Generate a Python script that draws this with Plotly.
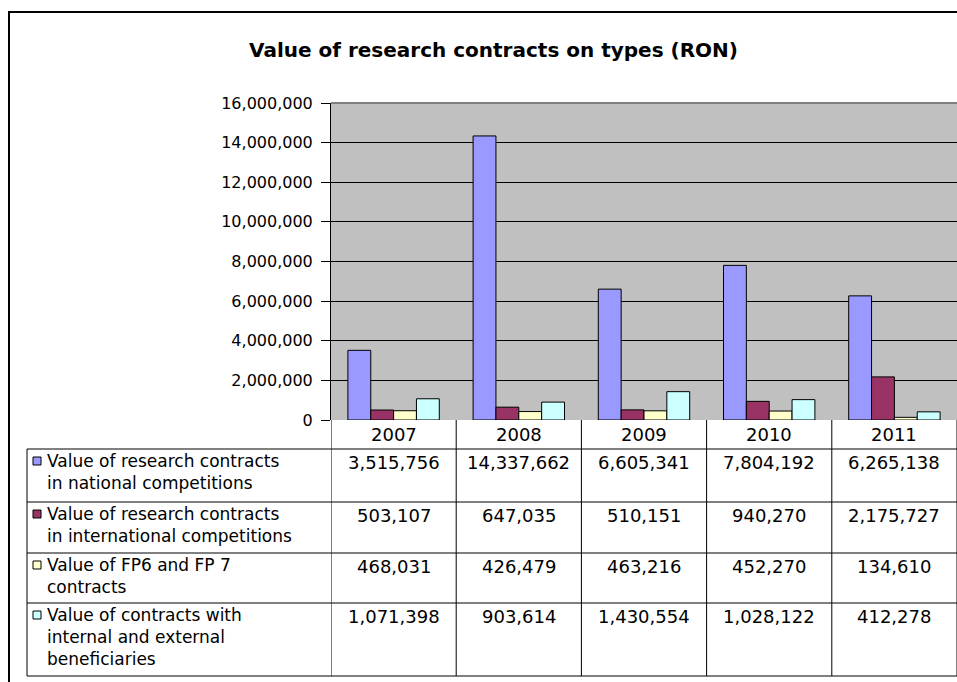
import plotly.graph_objects as go

YEARS = ["2007", "2008", "2009", "2010", "2011"]

SERIES_NAMES = [
    "Value of research contracts in national competitions",
    "Value of research contracts in international competitions",
    "Value of FP6 and FP 7 contracts",
    "Value of contracts with internal and external beneficiaries",
]
# how the names wrap inside the data table
SERIES_LINES = [
    ["Value of research contracts", "in national competitions"],
    ["Value of research contracts", "in international competitions"],
    ["Value of FP6 and FP 7", "contracts"],
    ["Value of contracts with", "internal and external", "beneficiaries"],
]
NATIONAL = [3515756, 14337662, 6605341, 7804192, 6265138]
INTERNATIONAL = [503107, 647035, 510151, 940270, 2175727]
FP6_FP7 = [468031, 426479, 463216, 452270, 134610]
INTERNAL_EXTERNAL = [1071398, 903614, 1430554, 1028122, 412278]

SERIES_VALUES = [NATIONAL, INTERNATIONAL, FP6_FP7, INTERNAL_EXTERNAL]
COLORS = ["#9999FF", "#993366", "#FFFFCC", "#CCFFFF"]

FONT = "DejaVu Sans"
W, H = 957, 682
PLOT_L, PLOT_R, PLOT_T, PLOT_B = 331, 957, 103, 420
ROW_EDGES = [449, 502, 553, 603, 676]   # table rows (pixels)
TABLE_L = 27
NAME_SIZE = 17
CELL_SIZE = 18
LINE_H = 1.3 * NAME_SIZE                # plotly's line spacing for <br>


def px(x):
    return (x - PLOT_L) / (PLOT_R - PLOT_L)


def py(y):
    return (PLOT_B - y) / (PLOT_B - PLOT_T)


fig = go.Figure()
for name, vals, color in zip(SERIES_NAMES, SERIES_VALUES, COLORS):
    fig.add_trace(
        go.Bar(
            x=YEARS,
            y=vals,
            name=name,
            marker=dict(color=color, line=dict(color="black", width=1)),
            showlegend=False,
        )
    )

shapes = []
annotations = []

# outer chart frame
shapes.append(dict(type="rect", xref="paper", yref="paper",
                   x0=px(9), x1=px(975), y0=py(12), y1=py(700),
                   line=dict(color="black", width=2)))
# grey top border of the plot area
shapes.append(dict(type="line", xref="paper", yref="paper",
                   x0=0, x1=1, y0=1, y1=1, line=dict(color="#808080", width=2)))

# table grid
for edge in ROW_EDGES:
    shapes.append(dict(type="line", xref="paper", yref="paper",
                       x0=px(TABLE_L), x1=1.0, y0=py(edge), y1=py(edge),
                       line=dict(color="black", width=1)))
shapes.append(dict(type="line", xref="paper", yref="paper",
                   x0=px(TABLE_L), x1=px(TABLE_L), y0=py(ROW_EDGES[0]), y1=py(ROW_EDGES[-1]),
                   line=dict(color="black", width=1)))
for i in range(len(YEARS) + 1):
    shapes.append(dict(type="line", xref="x", yref="paper",
                       x0=i - 0.5, x1=i - 0.5, y0=0, y1=py(ROW_EDGES[-1]),
                       line=dict(color="black", width=1)))

# year header
for i, yr in enumerate(YEARS):
    annotations.append(dict(x=i, xref="x", y=py(434), yref="paper", text=yr,
                            showarrow=False, font=dict(family=FONT, size=CELL_SIZE, color="black"),
                            xanchor="center", yanchor="middle"))

# table rows: legend key, wrapped name, values
for r, (lines, vals, color) in enumerate(zip(SERIES_LINES, SERIES_VALUES, COLORS)):
    top = ROW_EDGES[r]
    first = top + 13
    key_y = top + 12
    centre = key_y + LINE_H * (len(lines) - 1) / 2
    shapes.append(dict(type="rect", xref="paper", yref="paper",
                       x0=px(33), x1=px(41), y0=py(key_y - 4), y1=py(key_y + 4),
                       fillcolor=color, line=dict(color="black", width=1)))
    annotations.append(dict(x=px(45), xref="paper", y=py(centre), yref="paper",
                            text="<br>".join(lines), showarrow=False, align="left",
                            xanchor="left", yanchor="middle",
                            font=dict(family=FONT, size=NAME_SIZE, color="black")))
    for i, v in enumerate(vals):
        annotations.append(dict(x=i, xref="x", y=py(first), yref="paper",
                                text=f"{v:,}", showarrow=False, xanchor="center", yanchor="middle",
                                font=dict(family=FONT, size=CELL_SIZE, color="black")))

# title
annotations.append(dict(x=px(493), xref="paper", y=py(50), yref="paper",
                        text="<b>Value of research contracts on types (RON)</b>",
                        showarrow=False, xanchor="center", yanchor="middle",
                        font=dict(family=FONT, size=20, color="black")))

fig.update_layout(
    width=W,
    height=H,
    margin=dict(l=PLOT_L, r=W - PLOT_R, t=PLOT_T, b=H - PLOT_B, pad=0),
    paper_bgcolor="white",
    plot_bgcolor="#C0C0C0",
    bargap=0.27,
    bargroupgap=0,
    barmode="group",
    font=dict(family=FONT, size=16, color="black"),
    xaxis=dict(type="category", showticklabels=False, showgrid=False, zeroline=False,
               ticks="", showline=False, range=[-0.5, 4.5], fixedrange=True),
    yaxis=dict(range=[0, 16000000], dtick=2000000, tickformat=",",
               showgrid=True, gridcolor="black", gridwidth=1, zeroline=False,
               showline=True, linecolor="black", linewidth=1,
               ticks="outside", ticklen=9, tickcolor="black", ticklabelstandoff=5,
               tickfont=dict(family=FONT, size=16, color="black"), fixedrange=True),
    shapes=shapes,
    annotations=annotations,
)

fig.write_html("out.html", config={"displayModeBar": False},
               post_script="document.body.style.margin = '0px';")
